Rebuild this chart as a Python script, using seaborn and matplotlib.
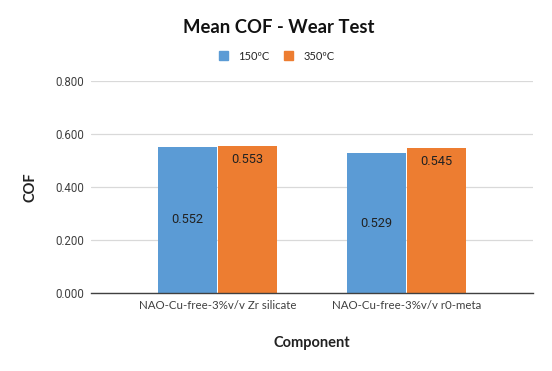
import matplotlib
matplotlib.use("Agg")
import matplotlib.pyplot as plt
import pandas as pd
import seaborn as sns

# Chart data
components = ["NAO-Cu-free-3%v/v Zr silicate", "NAO-Cu-free-3%v/v r0-meta"]
temps = ["150ºC", "350ºC"]
cof_150 = [0.552, 0.529]
cof_350 = [0.553, 0.545]
y_ticks = [0.0, 0.2, 0.4, 0.6, 0.8]

colors = ["#5B9BD5", "#ED7D31"]

df = pd.DataFrame({
    "Component": components * 2,
    "Temp": [temps[0]] * 2 + [temps[1]] * 2,
    "COF": cof_150 + cof_350,
})

sns.set_style("white")
plt.rcParams["font.family"] = ["Lato", "DejaVu Sans"]

fig = plt.figure(figsize=(5.52, 3.71), dpi=100)
ax = fig.add_axes([0.1649, 0.2094, 0.8007, 0.5731])

sns.barplot(data=df, x="Component", y="COF", hue="Temp", palette=colors,
            width=0.64, gap=0.03, ax=ax, legend=False, saturation=1,
            edgecolor="none")

ax.set_xlim(-0.669, 1.669)
ax.set_ylim(0, 0.8)
ax.set_yticks(y_ticks)
ax.set_yticklabels([f"{v:.3f}" for v in y_ticks], family="Roboto",
                   fontsize=8.3, color="#404040")
ax.tick_params(axis="y", length=0, pad=5)
ax.tick_params(axis="x", length=0, pad=5, labelsize=8.3, labelcolor="#404040")
ax.yaxis.grid(True, color="#D9D9D9", linewidth=0.9)
ax.set_axisbelow(True)
for side in ["left", "right", "top"]:
    ax.spines[side].set_visible(False)
ax.spines["bottom"].set_color("#404040")
ax.spines["bottom"].set_linewidth(1.0)

ax.set_xlabel("Component", fontsize=10.5, fontweight="bold", labelpad=18,
              color="#222222")
ax.set_ylabel("COF", fontsize=10.5, fontweight="bold", labelpad=13,
              color="#222222")

# value labels: 150ºC centered, 350ºC near top
for i, cont in enumerate(ax.containers):
    if i == 0:
        ax.bar_label(cont, labels=[f"{v:.3f}" for v in cof_150],
                     label_type="center", fontsize=9.3, family="Roboto",
                     color="#222222")
    else:
        ax.bar_label(cont, labels=[f"{v:.3f}" for v in cof_350],
                     label_type="edge", padding=-14, fontsize=9.3,
                     family="Roboto", color="#222222")

fig.text(0.505, 0.925, "Mean COF - Wear Test", ha="center", va="center",
         fontsize=13.3, fontweight="bold", color="#111111")

handles = [plt.Rectangle((0, 0), 1, 1, color=c) for c in colors]
fig.legend(handles, temps, loc="center", bbox_to_anchor=(0.501, 0.849),
           ncol=2, frameon=False, fontsize=8.0, handlelength=0.8,
           handleheight=0.8, columnspacing=1.4, handletextpad=0.9)

fig.savefig("out.png", dpi=100)
